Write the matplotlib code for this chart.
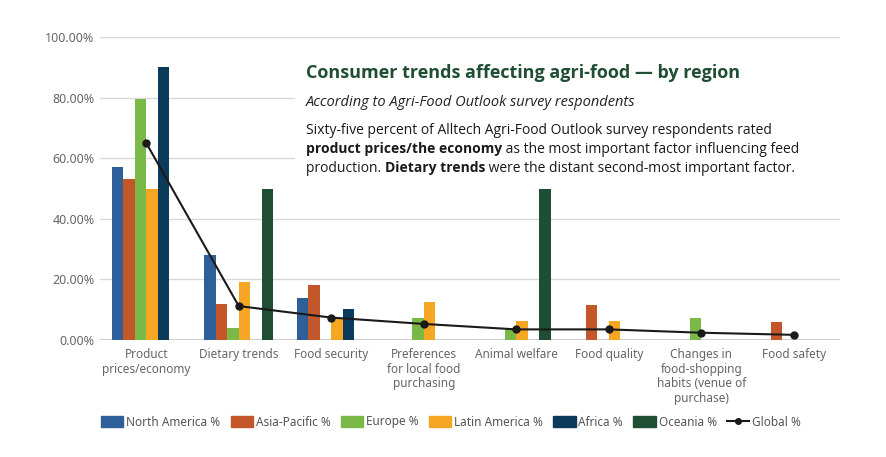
import matplotlib
matplotlib.use("Agg")
import matplotlib.pyplot as plt
import numpy as np
from matplotlib.patches import Patch
from matplotlib.lines import Line2D

categories = ["Product\nprices/economy", "Dietary trends", "Food security",
              "Preferences\nfor local food\npurchasing", "Animal welfare", "Food quality",
              "Changes in\nfood-shopping\nhabits (venue of\npurchase)", "Food safety"]
north_america = [57, 28, 14, 0, 0, 0, 0, 0]
asia_pacific = [53, 12, 18, 0, 0, 11.6, 0, 6]
europe = [79.5, 4, 0, 7.3, 3.9, 0, 7.3, 0]
latin_america = [50, 19, 7, 12.5, 6.3, 6.3, 0, 0]
africa = [90, 0, 10.2, 0, 0, 0, 0, 0]
oceania = [0, 50, 0, 0, 50, 0, 0, 0]
global_pct = [65, 11.2, 7.4, 5.3, 3.5, 3.5, 2.4, 1.7]
yticks = [0, 20, 40, 60, 80, 100]
ytick_labels = ["0.00%", "20.00%", "40.00%", "60.00%", "80.00%", "100.00%"]

series = [("North America %", north_america, "#2F5F98"),
          ("Asia-Pacific %", asia_pacific, "#C4572A"),
          ("Europe %", europe, "#7AB848"),
          ("Latin America %", latin_america, "#F5A623"),
          ("Africa %", africa, "#0C3A5B"),
          ("Oceania %", oceania, "#1F4E35")]

FONT = "Noto Sans"
TFONT = ["Open Sans", "DejaVu Sans"]
plt.rcParams["font.family"] = [FONT, "DejaVu Sans"]

fig = plt.figure(figsize=(8.86, 4.57), dpi=100)
ax = fig.add_axes([100/886, 1-340/457, 740/886, 303/457])

x = np.arange(len(categories))
w = 0.125
for i, (name, vals, col) in enumerate(series):
    ax.bar(x + (i - 2.5) * w, vals, width=w, color=col, label=name, zorder=2)
ax.plot(x, global_pct, color="#1a1a1a", lw=1.5, marker="o", ms=5, zorder=3, label="Global %")

ax.set_xlim(-0.5, len(categories) - 0.5)
ax.set_ylim(0, 100)
ax.set_yticks(yticks)
ax.set_yticklabels(ytick_labels, fontsize=9, color="#666666")
ax.set_xticks(x)
ax.set_xticklabels(categories, fontsize=8.5, color="#666666", linespacing=1.15, va="top")
ax.tick_params(length=0, pad=6)
ax.tick_params(axis="y", pad=4)
for s in ax.spines.values():
    s.set_visible(False)
ax.grid(axis="y", color="#d9d9d9", lw=1, zorder=0)
ax.axhline(0, color="#d0d0d0", lw=1.5, zorder=1)
ax.set_axisbelow(True)

fig.patches.append(plt.Rectangle((295/886, 1-180/457), 545/886, 130/457,
                                 transform=fig.transFigure, color="white", zorder=1))
fig.text(306/886, 1-78/457, "Consumer trends affecting agri-food \u2014 by region",
         fontsize=13, fontweight="bold", color="#1F4E35", zorder=5, family=TFONT)
fig.text(306/886, 1-106/457, "According to Agri-Food Outlook survey respondents",
         fontsize=10.5, fontstyle="italic", color="#222222", zorder=5, family=TFONT)

renderer = fig.canvas.get_renderer()
def rich(y_px, parts):
    xpos = 306
    for txt, bold in parts:
        t = fig.text(xpos/886, 1-y_px/457, txt, va="baseline", fontsize=10,
                     color="#1a1a1a", fontweight="bold" if bold else "normal", zorder=5,
                     family=TFONT)
        bb = t.get_window_extent(renderer=renderer)
        xpos += bb.width
rich(134, [("Sixty-five percent of Alltech Agri-Food Outlook survey respondents rated", False)])
rich(153, [("product prices/the economy", True), (" as the most important factor influencing feed", False)])
rich(172, [("production. ", False), ("Dietary trends", True), (" were the distant second-most important factor.", False)])

handles = [Patch(color=c, label=n) for n, _, c in series]
handles.append(Line2D([0], [0], color="#1a1a1a", lw=1.5, marker="o", ms=4, label="Global %"))
leg = fig.legend(handles=handles, loc="center", bbox_to_anchor=(451/886, 1-422/457), ncol=7,
                 frameon=False, fontsize=8.5, handlelength=1.9, handleheight=1.0,
                 handletextpad=0.25, columnspacing=0.85)
for t in leg.get_texts():
    t.set_color("#555555")

fig.savefig("out.png", dpi=100, facecolor="white")
